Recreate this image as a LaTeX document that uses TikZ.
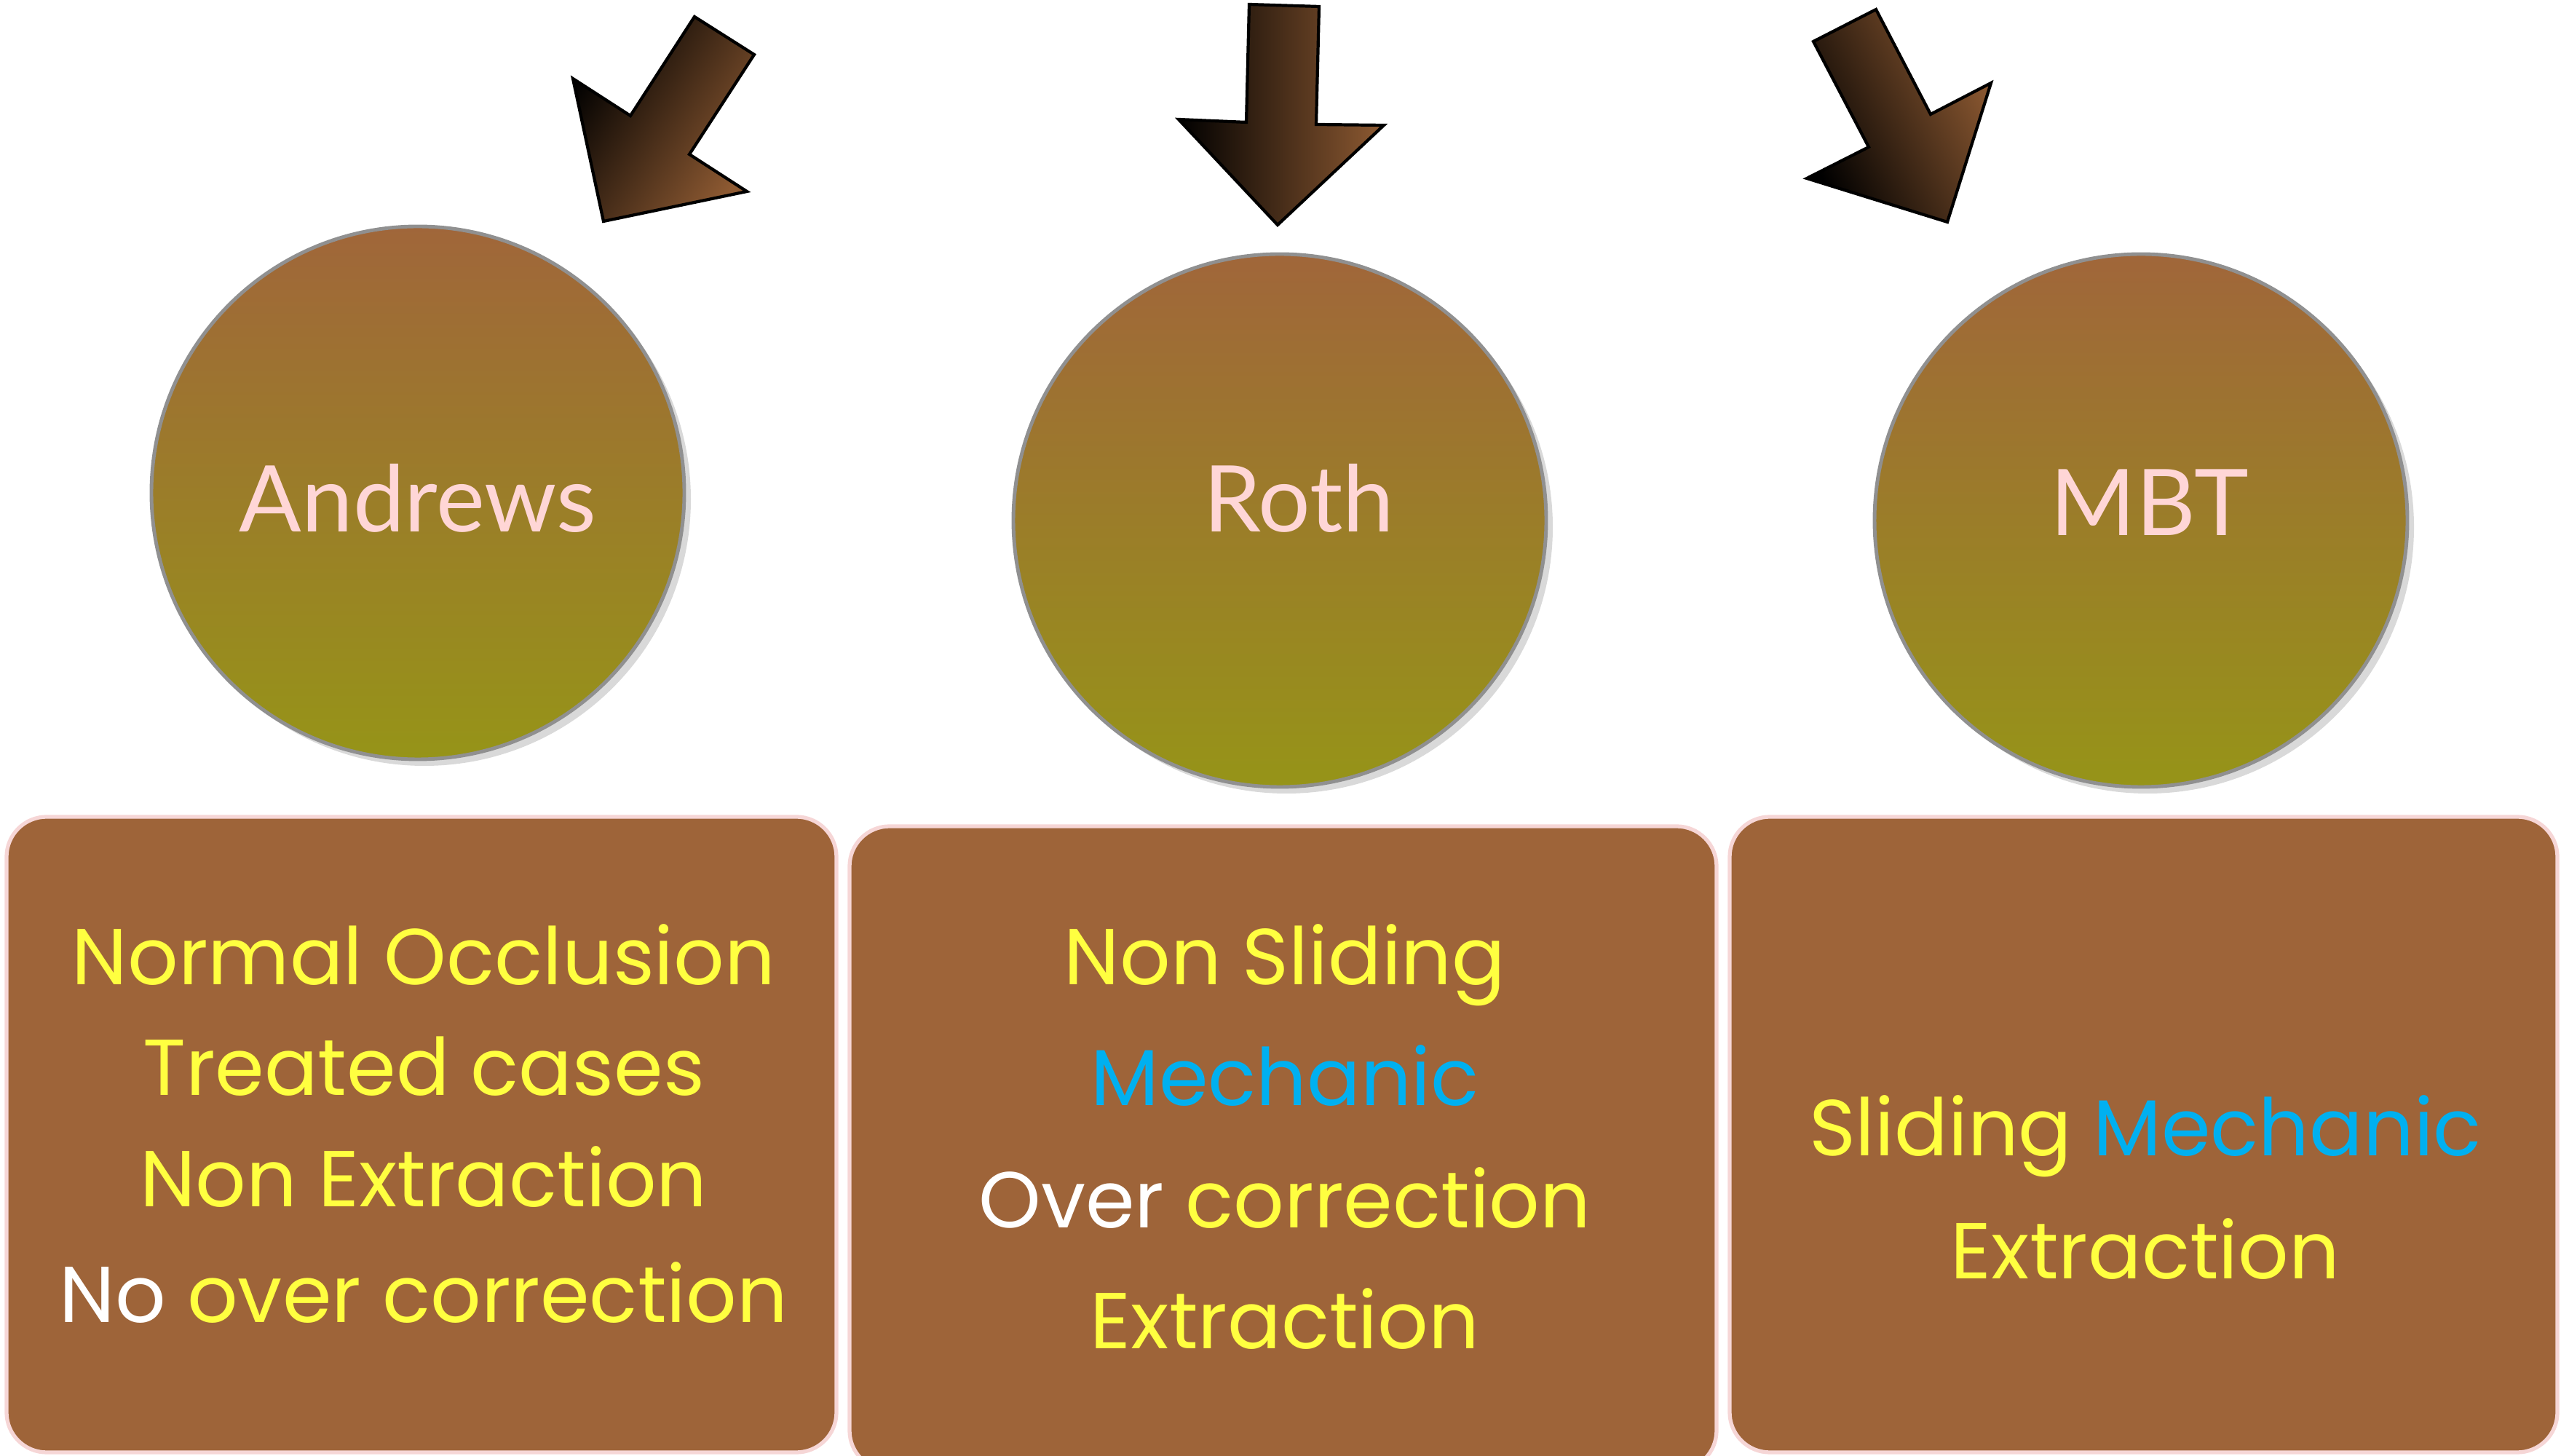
\documentclass[tikz,border=0pt]{standalone}
\usepackage{fontspec}
\usetikzlibrary{shadows}
\newfontfamily\labelfont{Lato}
\newfontfamily\handfont{Poppins}
\definecolor{boxbrown}{HTML}{9E6439}
\definecolor{boxrim}{HTML}{F6D6D6}
\definecolor{balltop}{HTML}{A0663A}
\definecolor{ballbot}{HTML}{969418}
\definecolor{ballrim}{HTML}{909090}
\definecolor{arrowbrown}{HTML}{8E5A32}
\definecolor{labelpink}{HTML}{FFD6D6}
\definecolor{handyellow}{HTML}{FFFF40}
\definecolor{handblue}{HTML}{00B0F0}
\begin{document}
\begin{tikzpicture}[
  ball/.style={circle, minimum size=7.32cm, draw=ballrim, line width=1.4pt,
    top color=balltop, bottom color=ballbot,
    drop shadow={shadow xshift=0.9mm, shadow yshift=-0.9mm, opacity=0.3}},
  ballname/.style={font=\labelfont\fontsize{36}{40}\selectfont, text=labelpink, anchor=base, inner sep=0pt},
  card/.style={fill=boxbrown, draw=boxrim, line width=1.5pt, rounded corners=0.55cm},
  hand/.style={font=\handfont\fontsize{31}{36}\selectfont, text=handyellow, anchor=base, inner sep=0pt},
  pointer/.style={draw=black, line width=1.2pt, line join=miter, left color=black, right color=arrowbrown}
]
\useasboundingbox (0,0) rectangle (35.18,20);
% arrows
\shadedraw[pointer, shading angle=57] (9.54,19.77)--(10.36,19.25)--(9.47,17.88)--(10.26,17.37)
  --(8.29,16.96)--(7.87,18.92)--(8.66,18.41)--cycle;
\shadedraw[pointer, shading angle=90] (17.16,19.94)--(18.12,19.91)--(18.08,18.29)--(19.01,18.28)
  --(17.55,16.91)--(16.19,18.36)--(17.12,18.32)--cycle;
\shadedraw[pointer, shading angle=117] (25.77,19.87)--(24.91,19.43)--(25.67,17.98)--(24.82,17.55)
  --(26.75,16.95)--(27.35,18.86)--(26.52,18.43)--cycle;
% circles
\node[ball] (andrews) at (5.74,13.23) {};
\node[ball] (roth) at (17.58,12.85) {};
\node[ball] (mbt) at (29.41,12.85) {};
\node[ballname] (andrewsname) at (5.74,12.69) {Andrews};
\node[ballname] (rothname) at (17.84,12.69) {Roth};
\node[ballname] (mbtname) at (29.53,12.64) {MBT};
% cards
\draw[card] (0.09,0.05) rectangle (11.49,8.78);
\draw[card] (11.67,-0.2) rectangle (23.58,8.65);
\draw[card] (23.76,0.05) rectangle (35.13,8.78);
\node[hand] (a1) at (5.82,6.47) {Normal Occlusion};
\node[hand] (a2) at (5.82,4.95) {Treated cases};
\node[hand] (a3) at (5.82,3.42) {Non Extraction};
\node[hand] (a4) at (5.82,1.83) {\textcolor{white}{No} over correction};
\node[hand] (r1) at (17.65,6.47) {Non Sliding};
\node[hand, text=handblue] (r2) at (17.65,4.81) {Mechanic};
\node[hand] (r3) at (17.65,3.13) {\textcolor{white}{Over} correction};
\node[hand] (r4) at (17.65,1.47) {Extraction};
\node[hand] (m1) at (29.47,4.12) {Sliding \textcolor{handblue}{Mechanic}};
\node[hand] (m2) at (29.47,2.43) {Extraction};
\end{tikzpicture}
\end{document}
